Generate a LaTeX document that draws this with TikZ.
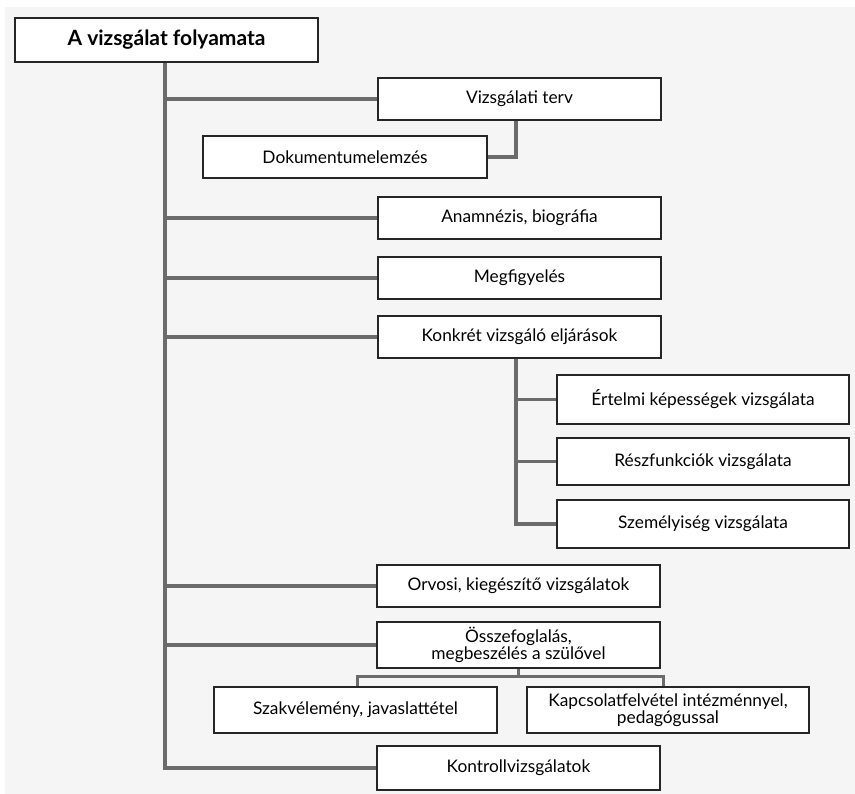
\documentclass[tikz,border=0pt]{standalone}
\usepackage{fontspec}
\setmainfont{Lato}
\begin{document}
\begin{tikzpicture}[x=1pt,y=-1pt,
  box/.style={draw=black!85,line width=1.1pt,fill=white,inner sep=0pt,align=center,
    font=\fontsize{17.3}{17.5}\selectfont},
  conn/.style={draw=black!58,line width=3.6pt}]
\useasboundingbox (0,0) rectangle (855,794);
\fill[black!4] (5,7) rectangle (855,794);
\coordinate (trunk) at (165,62);
\coordinate (sub) at (516,0);
\node[box,minimum width=303pt,minimum height=44pt,font=\fontsize{21}{23}\selectfont\bfseries] (title) at (166.5,40) {A vizsgálat folyamata};
\node[box,minimum width=283pt,minimum height=42pt] (vt) at (519.5,99) {Vizsgálati terv};
\node[box,minimum width=284pt,minimum height=42pt] (doku) at (345,157) {Dokumentumelemzés};
\node[box,minimum width=283pt,minimum height=42pt] (anam) at (519.5,218) {Anamnézis, biográfia};
\node[box,minimum width=283pt,minimum height=42pt] (megf) at (519.5,278) {Megfigyelés};
\node[box,minimum width=283pt,minimum height=42pt] (konk) at (519.5,337) {Konkrét vizsgáló eljárások};
\node[box,minimum width=292pt,minimum height=49pt] (ert) at (703,399.5) {Értelmi képességek vizsgálata};
\node[box,minimum width=292pt,minimum height=47pt] (resz) at (703,461.5) {Részfunkciók vizsgálata};
\node[box,minimum width=292pt,minimum height=48pt] (szem) at (703,524) {Személyiség vizsgálata};
\node[box,minimum width=283pt,minimum height=42pt] (orv) at (518.5,586) {Orvosi, kiegészítő vizsgálatok};
\node[box,minimum width=283pt,minimum height=46pt] (ossz) at (518.5,645) {Összefoglalás,\\megbeszélés a szülővel};
\node[box,minimum width=283pt,minimum height=46pt] (szak) at (355.5,710) {Szakvélemény, javaslattétel};
\node[box,minimum width=282pt,minimum height=46pt] (kap) at (668,710) {Kapcsolatfelvétel intézménnyel,\\pedagógussal};
\node[box,minimum width=283pt,minimum height=44pt] (kont) at (518.5,768) {Kontrollvizsgálatok};
% connectors
\draw[conn] (title.south -| trunk) |- (kont.west);
\foreach \n in {vt,anam,megf,konk,orv,ossz}
  \draw[conn] (trunk |- \n.west) -- (\n.west);
\draw[conn] (doku.east) -| (vt.south -| sub);
\draw[conn] (konk.south -| sub) |- (szem.west);
\foreach \n in {ert,resz}
  \draw[conn] (sub |- \n.west) -- (\n.west);
\draw[conn,line width=3pt] (ossz.south) -- ++(0,8) coordinate (br) -| ([xshift=1.5pt]szak.north);
\draw[conn,line width=3pt] (br) -| ([xshift=-5pt]kap.north);
% redraw box borders on top
\foreach \n in {title,vt,doku,anam,megf,konk,ert,resz,szem,orv,ossz,szak,kap,kont}
  \draw[draw=black!85,line width=1.1pt] (\n.north west) rectangle (\n.south east);
\end{tikzpicture}
\end{document}
